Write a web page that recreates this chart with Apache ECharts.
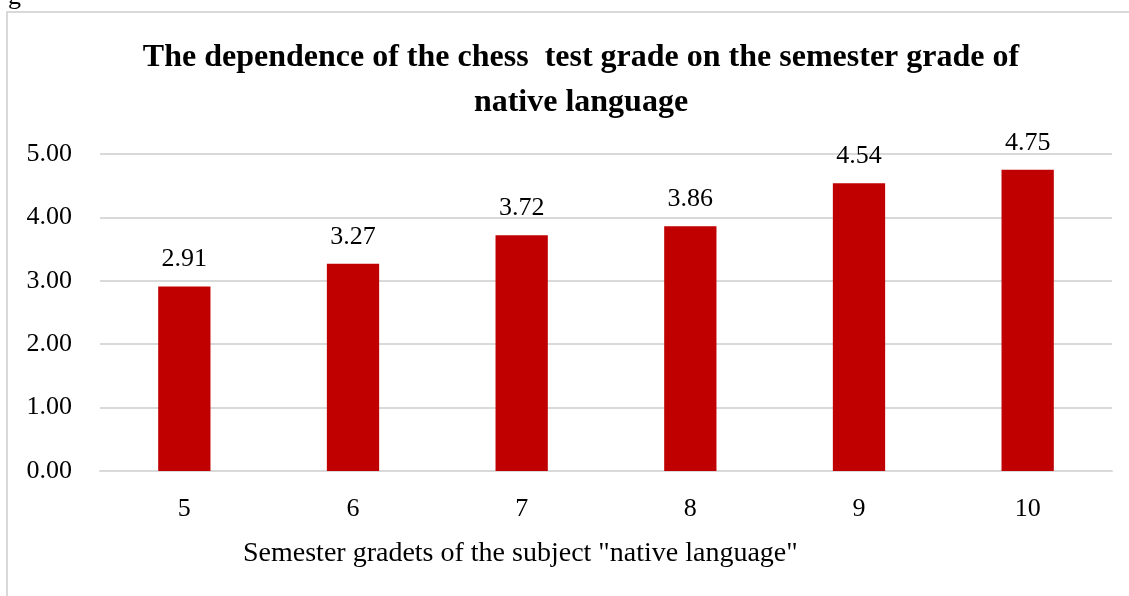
<!DOCTYPE html>
<html>
<head>
<meta charset="utf-8">
<script src="https://cdn.jsdelivr.net/npm/echarts@6/dist/echarts.min.js"></script>
<style>
  html, body { margin: 0; padding: 0; background: #fff; }
  #chart { width: 1129px; height: 596px; }
</style>
</head>
<body>
<div id="chart"></div>
<script>
// data
const grades = ['5', '6', '7', '8', '9', '10']
const testGrade = [2.91, 3.27, 3.72, 3.86, 4.54, 4.75]
const yTicks = [0, 1, 2, 3, 4, 5]

const serif = '"Liberation Serif", "DejaVu Serif", serif'

const chart = echarts.init(document.getElementById('chart'))
chart.setOption({
  animation: false,
  title: [
    {
      text: 'The dependence of the chess  test grade on the semester grade of\nnative language',
      left: 576,
      textAlign: 'center',
      top: 30,
      textStyle: {
        fontFamily: serif,
        fontWeight: 'bold',
        fontSize: 32,
        color: '#000',
        lineHeight: 45
      }
    },
    {
      text: 'Semester gradets of the subject "native language"',
      left: 238,
      top: 535,
      textStyle: { fontFamily: serif, fontWeight: 'normal', fontSize: 28, color: '#000' }
    }
  ],
  graphic: [
    {
      type: 'rect',
      shape: { x: 7, y: 12, width: 1140, height: 600 },
      style: { fill: 'none', stroke: '#d9d9d9', lineWidth: 2 }
    },
    {
      type: 'text',
      left: 8,
      top: -16,
      style: { text: 'g', font: '26px ' + serif, fill: '#000' }
    }
  ],
  grid: { left: 100, right: 17, top: 154, bottom: 125 },
  xAxis: {
    type: 'category',
    data: grades,
    axisTick: { show: false },
    axisLine: { lineStyle: { color: '#d9d9d9', width: 2 } },
    axisLabel: { margin: 25, fontFamily: serif, fontSize: 26, color: '#000' }
  },
  yAxis: {
    type: 'value',
    min: yTicks[0],
    max: yTicks[yTicks.length - 1],
    interval: 1,
    axisLine: { show: false },
    axisTick: { show: false },
    splitLine: { lineStyle: { color: '#d9d9d9', width: 2 } },
    axisLabel: {
      margin: 28,
      fontFamily: serif,
      fontSize: 26,
      color: '#000',
      formatter: v => v.toFixed(2)
    }
  },
  series: [
    {
      type: 'bar',
      data: testGrade,
      barWidth: '31%',
      itemStyle: { color: '#c00000' },
      label: {
        show: true,
        position: 'top',
        distance: 14,
        fontFamily: serif,
        fontSize: 26,
        color: '#000',
        formatter: p => p.value.toFixed(2)
      }
    }
  ]
})
</script>
</body>
</html>
